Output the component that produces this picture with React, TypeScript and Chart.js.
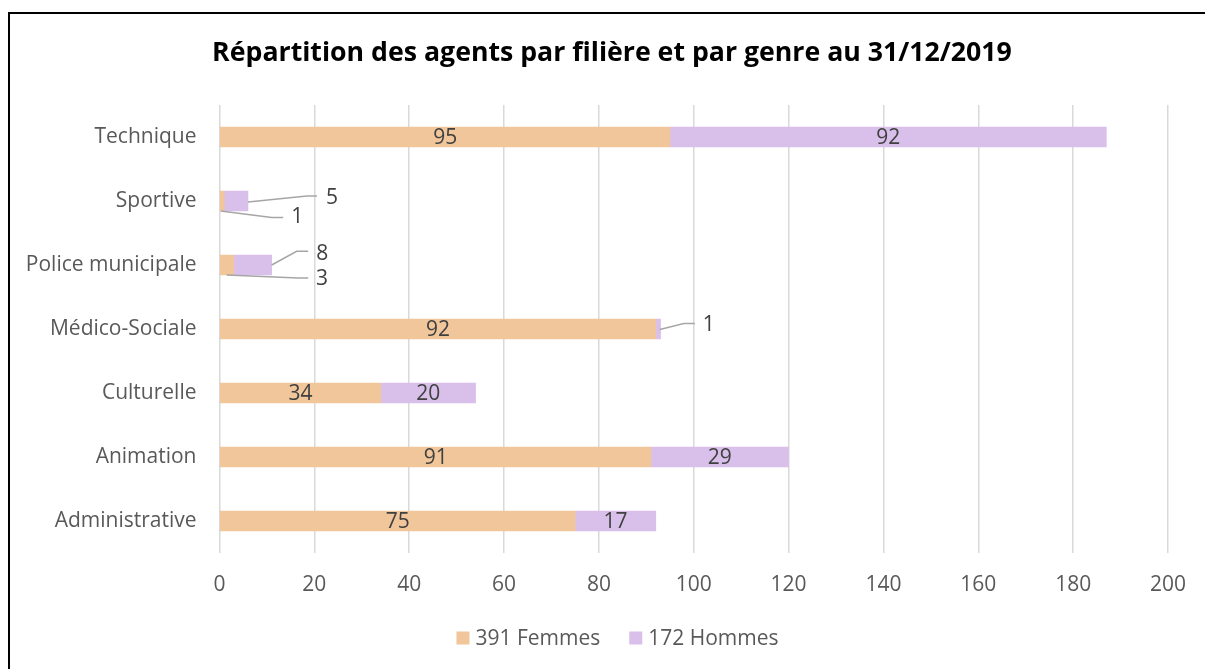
import React, { useEffect, useRef } from 'react';
import { Chart, registerables } from 'chart.js';

Chart.register(...registerables);

const chartTitle = 'Répartition des agents par filière et par genre au 31/12/2019';
const categories = ['Technique', 'Sportive', 'Police municipale', 'Médico-Sociale', 'Culturelle', 'Animation', 'Administrative'];
const femmes = [95, 1, 3, 92, 34, 91, 75];
const hommes = [92, 5, 8, 1, 20, 29, 17];
const seriesNames = ['391 Femmes', '172 Hommes'];
const seriesColors = ['#F0C69A', '#D9C0EB'];
const xMax = 200;
const xStep = 20;

const FONT = '"Open Sans", Lato, sans-serif';
const LABEL_SIZE = 21;
const NUM_SIZE = 21;

// callouts for small values: offsets (px) relative to bar end / bar centre
const callouts = [
  { ds: 1, idx: 1, s: [0, 1], e: [59, -5], l: [69, -5], t: [84, -2.5] },
  { ds: 0, idx: 1, s: [-3.5, 10], e: [47.5, 16.5], l: [59, 16.5], t: [73, 16] },
  { ds: 1, idx: 2, s: [0, 0], e: [25, -13.7], l: [36.5, -13.7], t: [50.7, -10.7] },
  { ds: 0, idx: 2, s: [-7, 10], e: [64.5, 13], l: [74.5, 13], t: [88.2, 13.7] },
  { ds: 1, idx: 3, s: [-0.7, 0.4], e: [23.3, -5.6], l: [34.3, -5.6], t: [48.3, -3.9] },
];

const labelPlugin = {
  id: 'barLabels',
  afterDatasetsDraw(chart: any) {
    const ctx = chart.ctx;
    ctx.save();
    ctx.font = `${NUM_SIZE}px ${FONT}`;
    ctx.fillStyle = '#404040';
    ctx.textAlign = 'center';
    ctx.textBaseline = 'middle';
    chart.data.datasets.forEach((ds: any, di: number) => {
      const meta = chart.getDatasetMeta(di);
      meta.data.forEach((bar: any, i: number) => {
        const v = ds.data[i];
        const { x, y, base } = bar.getProps(['x', 'y', 'base'], true);
        const c = callouts.find((k) => k.ds === di && k.idx === i);
        if (c) {
          ctx.strokeStyle = '#a6a6a6';
          ctx.lineWidth = 1.5;
          ctx.beginPath();
          ctx.moveTo(x + c.s[0], y + c.s[1]);
          ctx.lineTo(x + c.e[0], y + c.e[1]);
          ctx.lineTo(x + c.l[0], y + c.l[1]);
          ctx.stroke();
          ctx.fillText(String(v), x + c.t[0], y + c.t[1]);
        } else {
          ctx.fillText(String(v), (x + base) / 2, y + 1);
        }
      });
    });
    ctx.restore();
  },
};

const titlePlugin = {
  id: 'customTitle',
  afterDraw(chart: any) {
    const ctx = chart.ctx;
    ctx.save();
    ctx.font = `bold 26.7px ${FONT}`;
    ctx.fillStyle = '#000000';
    ctx.textAlign = 'center';
    ctx.textBaseline = 'alphabetic';
    ctx.fillText(chartTitle, 612, 61);
    ctx.restore();
  },
};

const legendPlugin = {
  id: 'customLegend',
  afterDraw(chart: any) {
    const ctx = chart.ctx;
    ctx.save();
    ctx.font = `${LABEL_SIZE}px ${FONT}`;
    const box = 13;
    const gapText = 6;
    const gapItem = 29;
    const widths = seriesNames.map((n) => ctx.measureText(n).width);
    const total = widths.reduce((a, w) => a + box + gapText + w, 0) + gapItem * (seriesNames.length - 1);
    let x = 617.5 - total / 2;
    const cy = 638;
    ctx.textBaseline = 'middle';
    ctx.textAlign = 'left';
    seriesNames.forEach((n, i) => {
      ctx.fillStyle = seriesColors[i];
      ctx.fillRect(x, cy - box / 2, box, box);
      x += box + gapText;
      ctx.fillStyle = '#595959';
      ctx.fillText(n, x, cy + 1);
      x += widths[i] + gapItem;
    });
    ctx.restore();
  },
};

export default function App() {
  const ref = useRef<HTMLCanvasElement | null>(null);

  useEffect(() => {
    if (!ref.current) return;
    const chart = new Chart(ref.current, {
      type: 'bar',
      data: {
        labels: categories,
        datasets: [
          { label: seriesNames[0], data: femmes, backgroundColor: seriesColors[0], borderWidth: 0, barThickness: 20 },
          { label: seriesNames[1], data: hommes, backgroundColor: seriesColors[1], borderWidth: 0, barThickness: 20 },
        ],
      },
      options: {
        indexAxis: 'y',
        animation: false,
        responsive: false,
        layout: { padding: { top: 105, left: 0, right: 34.5, bottom: 51 } },
        scales: {
          x: {
            stacked: true,
            min: 0,
            max: xMax,
            ticks: { stepSize: xStep, padding: 19, color: '#595959', font: { family: FONT, size: NUM_SIZE } },
            grid: { color: '#d9d9d9', lineWidth: 1.5, drawTicks: false },
            border: { display: false },
            afterFit: (s: any) => { s.height = 65; },
          },
          y: {
            stacked: true,
            ticks: { padding: 23, color: '#595959', font: { family: FONT, size: LABEL_SIZE } },
            grid: { display: false, drawTicks: false },
            border: { display: false },
            afterFit: (s: any) => { s.width = 219.5; },
          },
        },
        plugins: {
          title: { display: false },
          tooltip: { enabled: false },
          legend: { display: false },
        },
      },
      plugins: [labelPlugin, titlePlugin, legendPlugin],
    });
    return () => chart.destroy();
  }, []);

  return (
    <div>
      <div
        style={{
          position: 'fixed',
          left: 8,
          top: 12,
          width: 1300,
          height: 800,
          border: '2px solid #000',
          background: '#fff',
        }}
      />
      <canvas
        ref={ref}
        width={1205}
        height={669}
        style={{ position: 'fixed', left: 0, top: 0, width: 1205, height: 669 }}
      />
    </div>
  );
}
